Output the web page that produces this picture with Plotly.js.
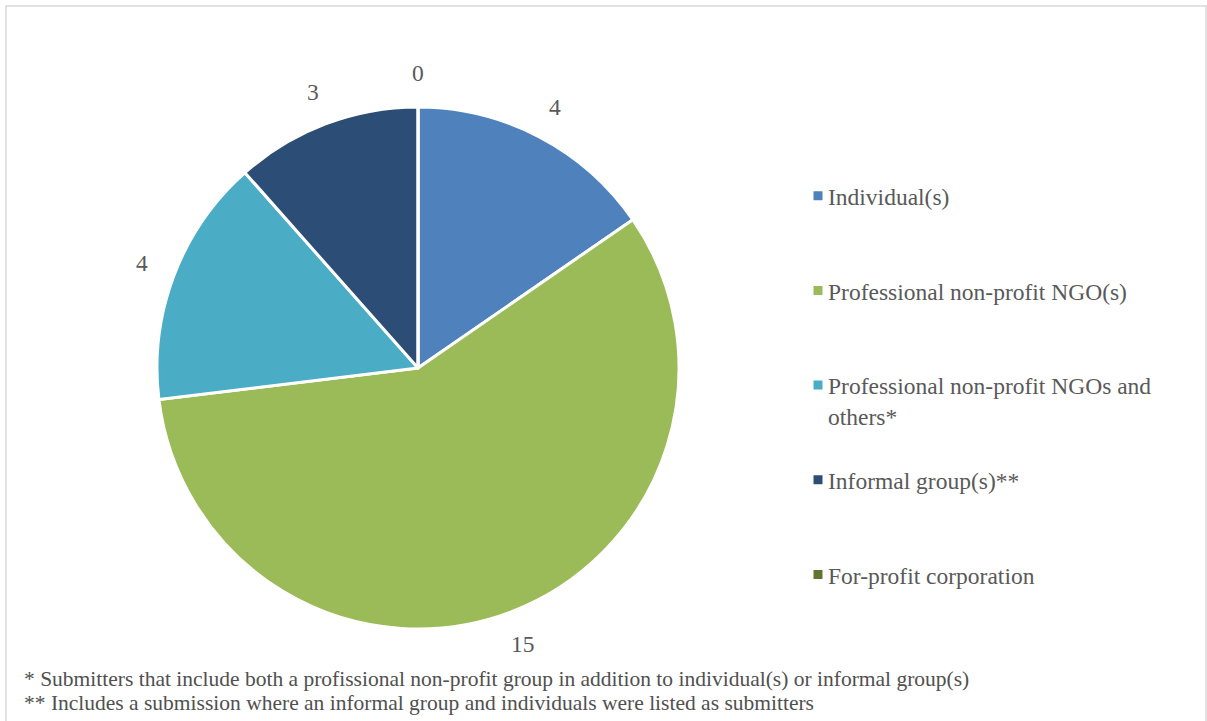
<!DOCTYPE html>
<html>
<head>
<meta charset="utf-8">
<script src="https://cdn.plot.ly/plotly-3.0.1.min.js"></script>
<style>html,body{margin:0;padding:0;background:#fff;}#chart{width:1207px;height:721px;}</style>
</head>
<body>
<div id="chart"></div>
<script>
const categories = [
  "Individual(s)",
  "Professional non-profit NGO(s)",
  "Professional non-profit NGOs and<br>others*",
  "Informal group(s)**",
  "For-profit corporation"
];
const counts = [4, 15, 4, 3, 0];
const sliceColors = ["#4F81BD", "#9BBB59", "#4BACC6", "#2C4D75", "#5F7530"];
const footnotes = [
  "* Submitters that include both a profissional non-profit group in addition to individual(s) or informal group(s)",
  "** Includes a submission where an informal group and individuals were listed as submitters"
];

const SERIF = "Liberation Serif, Times New Roman, Times, serif";

// pad legend entries so they are spaced like the original
const legendLabels = categories.map(c => {
  const n = c.split("<br>").length;
  return c + "<br> ".repeat(3 - n);
});

const W = 1207, H = 721;
const cx = 418, cy = 368, R = 261;
const labelR = R + 34;

const trace = {
  type: "pie",
  labels: legendLabels,
  values: counts,
  sort: false,
  direction: "clockwise",
  rotation: 0,
  marker: {colors: sliceColors, line: {color: "#ffffff", width: 3}},
  textinfo: "none",
  domain: {x: [(cx - R) / W, (cx + R) / W], y: [1 - (cy + R) / H, 1 - (cy - R) / H]},
  showlegend: true,
  hoverinfo: "label+value"
};

// value labels placed outside each slice, at its mid-angle (computed from data)
const total = counts.reduce((a, b) => a + b, 0);
let cum = 0;
const valueAnnots = counts.map(v => {
  const mid = (cum + v / 2) / total * 2 * Math.PI;
  cum += v;
  const px = cx + labelR * Math.sin(mid);
  const py = cy - labelR * Math.cos(mid);
  return {
    text: String(v), xref: "paper", yref: "paper",
    x: px / W, y: 1 - py / H, xanchor: "center", yanchor: "middle",
    showarrow: false,
    font: {family: SERIF, size: 23.5, color: "#595959"}
  };
});

const footAnnots = footnotes.map((t, i) => ({
  text: t, xref: "paper", yref: "paper",
  x: 22 / W, xanchor: "left",
  y: 1 - (679 + i * 24) / H, yanchor: "middle",
  showarrow: false,
  font: {family: SERIF, size: 21.5, color: "#505050"}
}));

const layout = {
  width: W, height: H,
  margin: {l: 0, r: 0, t: 0, b: 0},
  paper_bgcolor: "#ffffff",
  font: {family: SERIF, color: "#595959"},
  showlegend: true,
  legend: {
    x: 788 / W, xanchor: "left",
    y: 1 - 174 / H, yanchor: "top",
    valign: "top",
    font: {family: SERIF, size: 23.5, color: "#595959"},
    itemwidth: 30
  },
  shapes: [{
    type: "rect", xref: "paper", yref: "paper",
    x0: 6 / W, x1: 1206 / W, y0: -0.05, y1: 1 - 6 / H,
    line: {color: "#d9d9d9", width: 1.5}
  }],
  annotations: valueAnnots.concat(footAnnots)
};

Plotly.newPlot("chart", [trace], layout, {displayModeBar: false}).then(gd => {
  // move legend swatches closer to their text, as in the original
  gd.querySelectorAll(".legend .legendpoints").forEach(el => {
    el.setAttribute("transform", "translate(10,0)");
  });
});
</script>
</body>
</html>
